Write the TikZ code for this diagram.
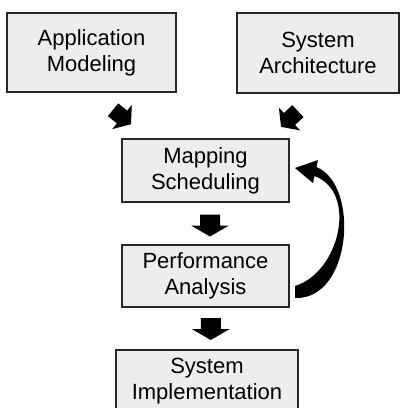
\documentclass[tikz,border=0pt]{standalone}
\usepackage{fontspec}
\setmainfont{Liberation Sans}
\usetikzlibrary{calc}

\tikzset{
  box/.style={draw=black!85, line width=1.4pt, fill=black!7, align=center,
    inner sep=0pt, font=\fontsize{16.5}{19.5}\selectfont},
  arrowfill/.style={fill=black},
  blockarrow/.pic={
    \fill[arrowfill] (-11,-10) -- (0,-10) -- (0,-19) -- (11,0) -- (0,19)
      -- (0,10) -- (-11,10) -- cycle;
  }
}

\begin{document}
\begin{tikzpicture}[x=0.75pt, y=-0.75pt]
  \useasboundingbox (0,0) rectangle (402,408);
  \clip (0,0) rectangle (402,408);

  % stages of the design flow
  \node[box, minimum width=126.75pt, minimum height=59.25pt] (app)  at (91.5,52.5) {Application\\Modeling};
  \node[box, minimum width=121.5pt,  minimum height=60pt]    (arch) at (318,53)    {System\\Architecture};
  \node[box, minimum width=125.25pt, minimum height=47.25pt] (map)  at (205.5,170.5) {Mapping\\Scheduling};
  \node[box, minimum width=125.25pt, minimum height=46.5pt]  (perf) at (205.5,276) {Performance\\Analysis};
  \node[box, minimum width=136.5pt,  minimum height=46.5pt]  (impl) at (207,381)  {System\\Implementation};

  % inputs flowing into mapping
  \coordinate (inA) at (122,117);
  \coordinate (inB) at (289.5,119);
  \path (inA) pic[rotate=-39, xscale=1.05, yscale=0.82] {blockarrow};
  \path (inB) pic[rotate=-137, xscale=1.05, yscale=0.82] {blockarrow};

  % downward steps
  \path ($(map.south)!0.5!(perf.north)+(4.5,2)$) pic[rotate=-90] {blockarrow};
  \path ($(perf.south)!0.5!(impl.north)+(4.5,0.5)$) pic[rotate=-90] {blockarrow};

  % feedback loop from analysis back to mapping
  \fill[arrowfill] (295,286) .. controls (340,272) and (358,192) .. (314.5,176)
    -- (313,183) -- (295,168) -- (318,160) -- (316.5,167)
    .. controls (360,185) and (352,300) .. (295,298) -- cycle;
\end{tikzpicture}
\end{document}
